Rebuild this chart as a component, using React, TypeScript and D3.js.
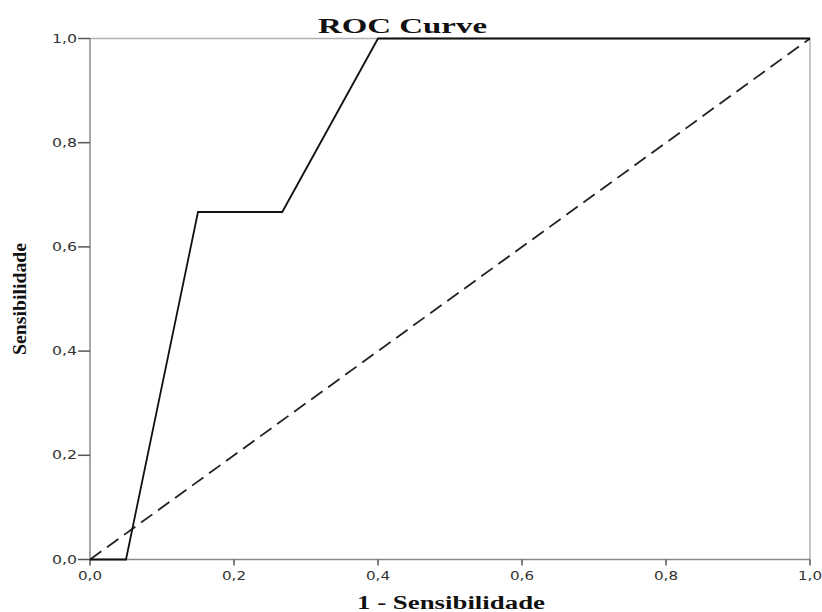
import React from "react";
import * as d3 from "d3";

const rocX = [0, 0.05, 0.15, 0.267, 0.4, 1.0];
const rocY = [0, 0, 0.667, 0.667, 1.0, 1.0];
const refX = [0, 1];
const refY = [0, 1];
const xTicks = [0, 0.2, 0.4, 0.6, 0.8, 1.0];
const yTicks = [0, 0.2, 0.4, 0.6, 0.8, 1.0];
const title = "ROC Curve";
const xLabel = "1 - Sensibilidade";
const yLabel = "Sensibilidade";

const W = 822, H = 612;
const left = 90, right = 810, top = 38.5, bottom = 559.5;

export default function App() {
  const x = d3.scaleLinear().domain([0, 1]).range([left, right]);
  const y = d3.scaleLinear().domain([0, 1]).range([bottom, top]);
  const line = d3.line<[number, number]>().x(d => x(d[0])).y(d => y(d[1]));
  const roc = rocX.map((v, i) => [v, rocY[i]] as [number, number]);
  const ref = refX.map((v, i) => [v, refY[i]] as [number, number]);
  const fmt = (v: number) => v.toFixed(1).replace(".", ",");
  const axisColor = "#8a8a8a";
  return (
    <svg width={W} height={H} style={{ position: "absolute", left: 0, top: 0, background: "#fff" }}>
      <rect x={0} y={0} width={W} height={H} fill="#fff" />
      <line x1={left} x2={right} y1={top} y2={top} stroke="#b0b0b0" strokeWidth={1.5} />
      <line x1={right} x2={right} y1={top} y2={bottom} stroke="#a0a0a0" strokeWidth={1.2} />
      <line x1={left} x2={right} y1={bottom} y2={bottom} stroke={axisColor} strokeWidth={1.5} />
      <line x1={left} x2={left} y1={top} y2={bottom} stroke={axisColor} strokeWidth={1.5} />
      {xTicks.map(t => (
        <g key={"x" + t}>
          <line x1={x(t)} x2={x(t)} y1={bottom} y2={bottom + 6} stroke="#555" strokeWidth={1.5} />
          <text x={x(t)} y={bottom + 20} textAnchor="middle" fontFamily="DejaVu Sans" fontSize={12} fill="#333"
            textLength={24} lengthAdjust="spacingAndGlyphs">{fmt(t)}</text>
        </g>
      ))}
      {yTicks.map(t => (
        <g key={"y" + t}>
          <line x1={left - 12} x2={left} y1={y(t)} y2={y(t)} stroke="#555" strokeWidth={1.5} />
          <text x={left - 13} y={y(t) + 4} textAnchor="end" fontFamily="DejaVu Sans" fontSize={12} fill="#333"
            textLength={25} lengthAdjust="spacingAndGlyphs">{fmt(t)}</text>
        </g>
      ))}
      <path d={line(ref) || ""} fill="none" stroke="#222" strokeWidth={1.8} strokeDasharray="14,7" />
      <path d={line(roc) || ""} fill="none" stroke="#111" strokeWidth={1.8} strokeLinejoin="miter" />
      <text x={402.5} y={33} textAnchor="middle" fontFamily="Liberation Serif" fontWeight="bold" fontSize={20}
        textLength={169} lengthAdjust="spacingAndGlyphs" fill="#111">{title}</text>
      <text x={451} y={609} textAnchor="middle" fontFamily="Liberation Serif" fontWeight="bold" fontSize={18}
        textLength={188} lengthAdjust="spacingAndGlyphs" fill="#111">{xLabel}</text>
      <text transform={`translate(26,299) rotate(-90)`} textAnchor="middle" fontFamily="Liberation Serif" fontWeight="bold" fontSize={18}
        textLength={112} lengthAdjust="spacingAndGlyphs" fill="#111">{yLabel}</text>
    </svg>
  );
}
